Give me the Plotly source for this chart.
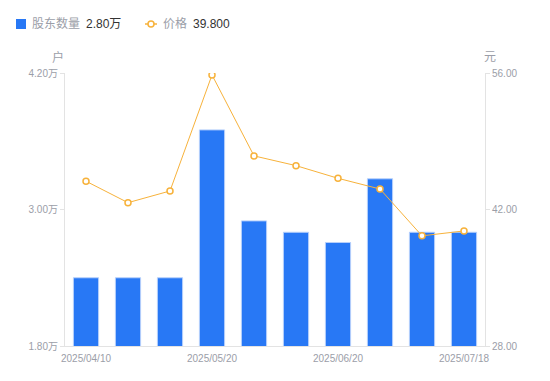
import plotly.graph_objects as go

dates = ["2025/04/10", "2025/04/18", "2025/04/30", "2025/05/20", "2025/05/30",
         "2025/06/10", "2025/06/20", "2025/06/30", "2025/07/10", "2025/07/18"]
holders_wan = [2.40, 2.40, 2.40, 3.70, 2.90, 2.80, 2.71, 3.27, 2.80, 2.80]
price = [44.9, 42.7, 43.9, 55.8, 47.5, 46.5, 45.2, 44.1, 39.3, 39.8]

left_ticks = [1.8, 3.0, 4.2]
left_ticktext = ["1.80万", "3.00万", "4.20万"]
right_ticks = [28, 42, 56]
right_ticktext = ["28.00", "42.00", "56.00"]
x_tickvals = [dates[0], dates[3], dates[6], dates[9]]

FONT = "Liberation Sans, Noto Sans CJK SC, sans-serif"
GRAY = "#9b9ea8"
DARK = "#333333"
BLUE = "#2878f5"
ORANGE = "#f7b23b"

OFF = 8  # default page body margin
W, H = 550 - OFF, 381 - OFF
ML, MR, MT, MB = 65 - OFF, 65, 73 - OFF, 35
PW, PH = W - ML - MR, H - MT - MB


def px(x):
    return (x - OFF - ML) / PW


def py(y):
    return (H - MB - (y - OFF)) / PH


fig = go.Figure()
fig.add_trace(go.Bar(
    x=dates, y=holders_wan, yaxis="y", name="股东数量",
    marker=dict(color=BLUE, line=dict(color="#b7d0fb", width=1)),
    width=0.6,
))
fig.add_trace(go.Scatter(
    x=dates, y=price, yaxis="y2", mode="lines+markers", name="价格",
    line=dict(color=ORANGE, width=1),
    marker=dict(symbol="circle", size=6, color="white", line=dict(color=ORANGE, width=1.5)),
))

shapes = [
    dict(type="rect", xref="paper", yref="paper", x0=px(16), x1=px(26), y0=py(29), y1=py(19),
         fillcolor=BLUE, line=dict(width=0), layer="above"),
    dict(type="line", xref="paper", yref="paper", x0=px(145), x1=px(157), y0=py(24), y1=py(24),
         line=dict(color=ORANGE, width=1.5), layer="above"),
    dict(type="circle", xref="paper", yref="paper", x0=px(148), x1=px(154), y0=py(27), y1=py(21),
         fillcolor="white", line=dict(color=ORANGE, width=1.5), layer="above"),
]


def label(text, x, color, size=12):
    return dict(text=text, xref="paper", yref="paper", x=px(x), y=py(24), showarrow=False,
                xanchor="left", yanchor="middle", font=dict(size=size, color=color))


annotations = [
    label("股东数量", 30, GRAY),
    label(f"{holders_wan[-1]:.2f}万", 84, DARK),
    label("价格", 161, GRAY),
    label(f"{price[-1]:.3f}", 191, DARK),
    dict(text="户", xref="paper", yref="paper", x=0, y=1, xshift=-7, yshift=16,
         showarrow=False, font=dict(size=12, color=GRAY), xanchor="center", yanchor="middle"),
    dict(text="元", xref="paper", yref="paper", x=1, y=1, xshift=5, yshift=16,
         showarrow=False, font=dict(size=12, color=GRAY), xanchor="center", yanchor="middle"),
]

fig.update_layout(
    width=W, height=H,
    margin=dict(l=ML, r=MR, t=MT, b=MB, autoexpand=False),
    paper_bgcolor="white", plot_bgcolor="white",
    font=dict(family=FONT, size=10, color=GRAY),
    showlegend=False,
    xaxis=dict(type="category", range=[-0.5, len(dates) - 0.5],
               tickmode="array", tickvals=x_tickvals, ticktext=x_tickvals,
               showline=True, linecolor="#e3e3e3", linewidth=1, ticks="",
               ticklabelstandoff=3,
               showgrid=False, zeroline=False, automargin=False,
               tickfont=dict(size=10, color=GRAY)),
    yaxis=dict(range=[1.8, 4.2], tickmode="array", tickvals=left_ticks, ticktext=left_ticktext,
               showline=True, linecolor="#e3e3e3", linewidth=1, ticks="outside", ticklen=4,
               tickcolor="#e3e3e3", showgrid=False, zeroline=False, automargin=False,
               tickfont=dict(size=10, color=GRAY)),
    yaxis2=dict(range=[28, 56], overlaying="y", side="right", tickmode="array",
                tickvals=right_ticks, ticktext=right_ticktext,
                showline=True, linecolor="#e3e3e3", linewidth=1, ticks="outside", ticklen=4,
                tickcolor="#e3e3e3", showgrid=False, zeroline=False, automargin=False,
                tickfont=dict(size=10, color=GRAY)),
    shapes=shapes,
    annotations=annotations,
)

fig.write_html("out.html")
